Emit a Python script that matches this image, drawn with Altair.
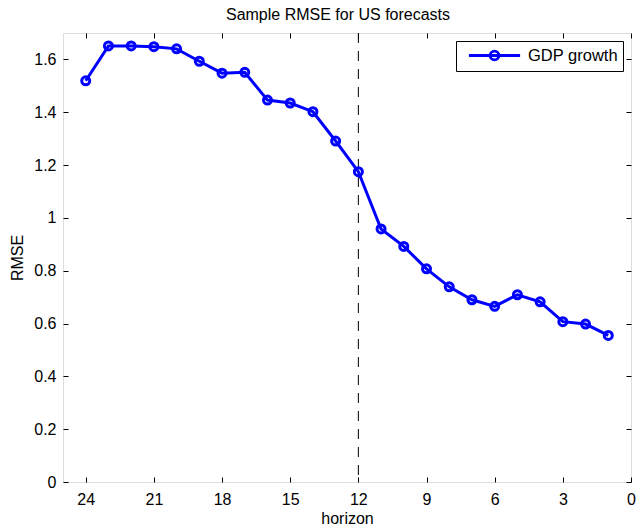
import altair as alt
import pandas as pd

# data
horizon = [24, 23, 22, 21, 20, 19, 18, 17, 16, 15, 14, 13, 12, 11, 10, 9, 8, 7, 6, 5, 4, 3, 2, 1]
rmse = [1.519, 1.651, 1.651, 1.648, 1.640, 1.593, 1.548, 1.551, 1.446, 1.435, 1.402, 1.291,
        1.175, 0.958, 0.892, 0.807, 0.739, 0.690, 0.665, 0.709, 0.682, 0.607, 0.598, 0.555]
series = "GDP growth"
x_ticks = [24, 21, 18, 15, 12, 9, 6, 3, 0]
y_ticks = [0, 0.2, 0.4, 0.6, 0.8, 1.0, 1.2, 1.4, 1.6]
vline_at = [12]

df = pd.DataFrame({"horizon": horizon, "rmse": rmse, "series": [series] * len(horizon)})
vdf = pd.DataFrame({"horizon": vline_at})

FONT = "Liberation Sans"
BLUE = "#0000ff"
FS = 16

xscale = alt.Scale(domain=[0, 25], reverse=True, nice=False, zero=False)
yscale = alt.Scale(domain=[0, 1.7], nice=False)

bottom_axis = alt.Axis(orient="bottom", values=x_ticks, offset=-5, tickSize=5, domain=False,
                       grid=False, labelPadding=9, labelFont=FONT, labelFontSize=FS,
                       labelColor="black", tickColor="black", title="horizon",
                       titleFont=FONT, titleFontSize=FS, titleFontWeight="normal",
                       titleColor="black", titlePadding=3, labelFlush=False)
left_axis = alt.Axis(orient="left", values=y_ticks, offset=-5, tickSize=5, domain=False,
                     grid=False, labelPadding=7, labelFont=FONT, labelFontSize=FS,
                     labelColor="black", tickColor="black", format="~g", title="RMSE",
                     titleFont=FONT, titleFontSize=FS, titleFontWeight="normal",
                     titleColor="black", titlePadding=8, labelFlush=False)
top_axis = alt.Axis(orient="top", values=x_ticks, offset=-5, tickSize=5, domain=False,
                    grid=False, labels=False, tickColor="black", title=None)
right_axis = alt.Axis(orient="right", values=y_ticks, offset=-5, tickSize=5, domain=False,
                      grid=False, labels=False, tickColor="black", title=None)

legend_symbol = "M-3.2,0H3.2M0.55,0A0.55,0.55 0 1,1 -0.55,0A0.55,0.55 0 1,1 0.55,0"

color = alt.Color("series:N", scale=alt.Scale(domain=[series], range=[BLUE]),
                  legend=alt.Legend(title=None, orient="top-right", offset=8, padding=5,
                                    strokeColor="black", fillColor="white", cornerRadius=0,
                                    labelFont=FONT, labelFontSize=16.5, labelColor="black",
                                    symbolType=legend_symbol, symbolSize=256,
                                    symbolStrokeWidth=2.8, symbolStrokeColor=BLUE,
                                    symbolFillColor="transparent", symbolOffset=24,
                                    labelOffset=24))

line = alt.Chart(df).mark_line(strokeWidth=3).encode(
    x=alt.X("horizon:Q", scale=xscale, axis=bottom_axis),
    y=alt.Y("rmse:Q", scale=yscale, axis=left_axis),
    color=color,
)
points = alt.Chart(df).mark_point(filled=False, size=64, strokeWidth=3, opacity=1).encode(
    x=alt.X("horizon:Q", scale=xscale, axis=None),
    y=alt.Y("rmse:Q", scale=yscale, axis=None),
    color=color,
)
rule = alt.Chart(vdf).mark_rule(color="black", strokeWidth=1, strokeDash=[10, 8]).encode(
    x=alt.X("horizon:Q", scale=xscale, axis=None),
)
mirror = alt.Chart(df).mark_point(opacity=0).encode(
    x=alt.X("horizon:Q", scale=xscale, axis=top_axis),
    y=alt.Y("rmse:Q", scale=yscale, axis=right_axis),
)

chart = alt.layer(rule, line, points, mirror).resolve_axis(
    x="independent", y="independent"
).properties(
    width=568,
    height=449,
    title=alt.TitleParams("Sample RMSE for US forecasts", font=FONT, fontSize=FS,
                          fontWeight="normal", color="black", anchor="middle",
                          baseline="alphabetic", offset=-3, dx=-9),
    autosize=alt.AutoSizeParams(type="none"),
    padding={"left": 63, "top": 33, "right": 7, "bottom": 44},
).configure_view(stroke="black", strokeWidth=1).configure(background="white")

chart.save("out.html", embed_options={"renderer": "svg", "actions": False})
